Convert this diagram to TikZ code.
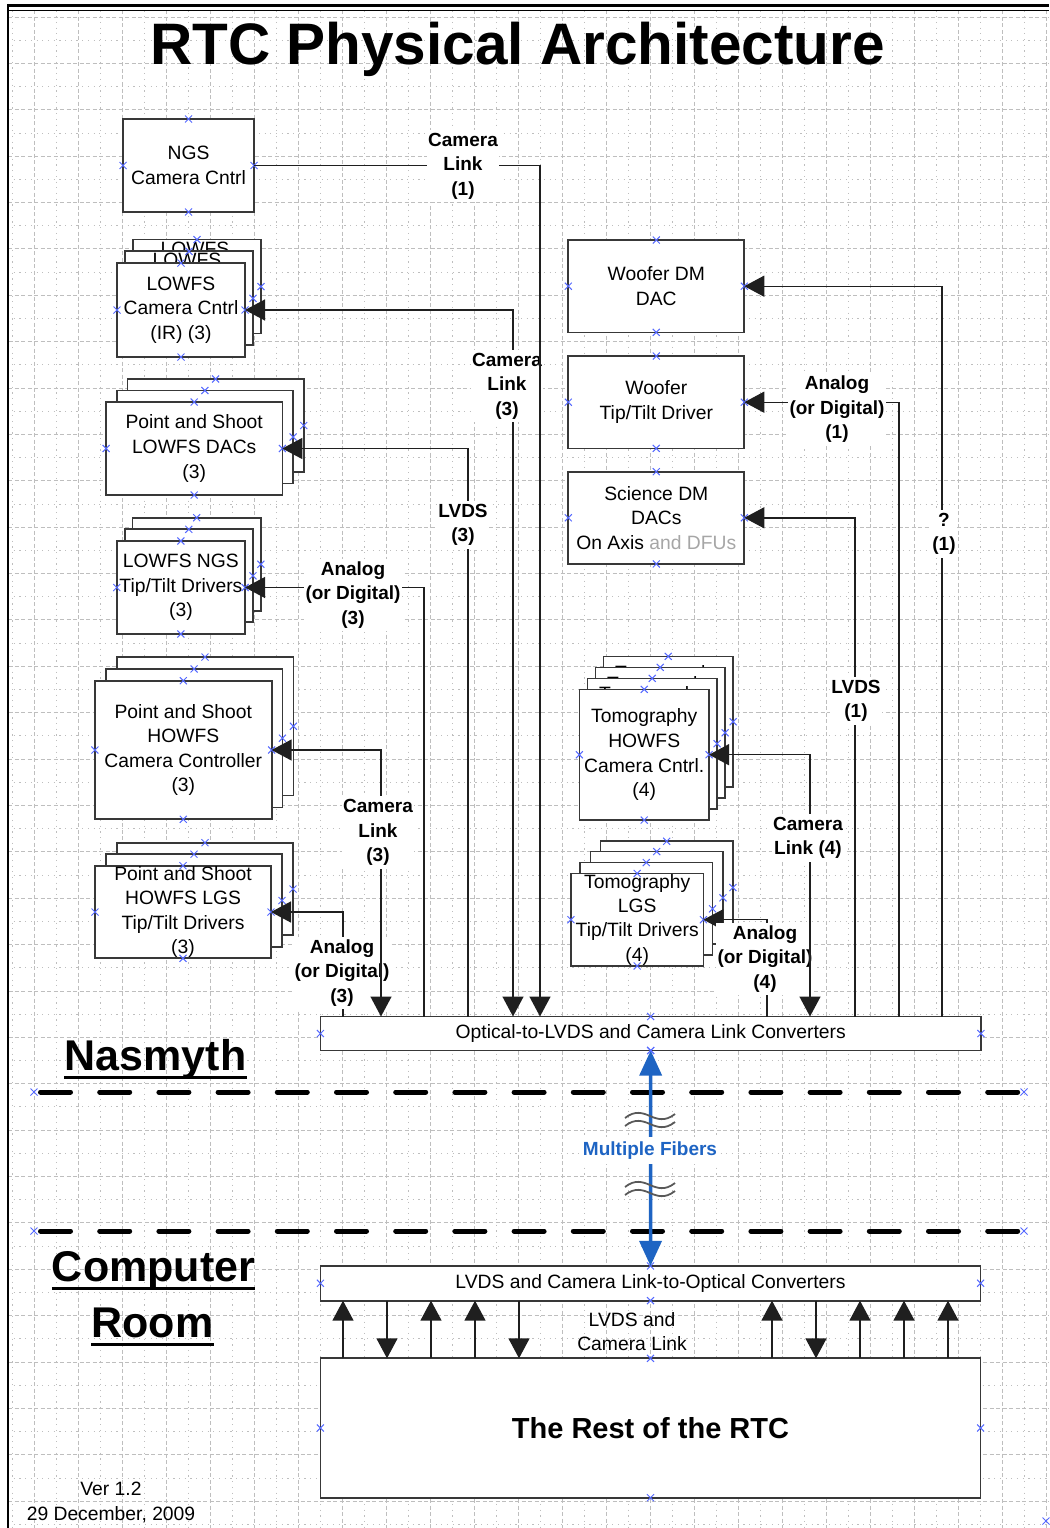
\documentclass[tikz,border=0pt]{standalone}
\usepackage{fontspec}
\setmainfont{Liberation Sans}
\usetikzlibrary{arrows.meta,calc}
\definecolor{cpblue}{RGB}{85,105,255}
\definecolor{fiber}{RGB}{30,100,195}
\definecolor{gridc}{RGB}{190,190,190}
\newcommand\bodyf{\fontsize{19.3}{24.6}\selectfont}
\newcommand\labf{\fontsize{19}{24.5}\selectfont\bfseries}
\newcommand\cpmk[1]{\draw[cp] (#1) +(-3.5,-3.5) -- +(3.5,3.5) +(-3.5,3.5) -- +(3.5,-3.5);}
\newcommand\cpbox[1]{\cpmk{#1.north}\cpmk{#1.south}\cpmk{#1.east}\cpmk{#1.west}}
\begin{document}
\begin{tikzpicture}[x=1pt,y=-1pt,
  >={Triangle[length=20pt,width=21pt]},
  box/.style={draw=black!78, line width=1.7pt, fill=white, inner sep=0pt, outer sep=0pt, align=center, font=\bodyf},
  frag/.style={font=\bodyf, anchor=base, inner sep=0pt},
  conn/.style={draw=black!88, line width=1.4pt},
  lab/.style={font=\labf, align=center, fill=white, inner xsep=1.5pt, inner ysep=3pt},
  cp/.style={draw=cpblue, line width=1pt},
  gmaj/.style={draw=gridc, line width=0.9pt, dash pattern=on 4pt off 2.5pt},
  gmin/.style={draw=gridc, line width=0.9pt, dash pattern=on 1.2pt off 4.5pt},
  sep/.style={draw=black, line width=5pt, line cap=round, dash pattern=on 30pt off 29.2pt, dash phase=52.7pt},
  big/.style={font=\fontsize{43}{50}\selectfont\bfseries, anchor=base, inner sep=0pt},
  uline/.style={draw=black, line width=3pt},
  wav/.style={draw=black!65, line width=1.8pt},
  pics/wavy/.style={code={\draw[wav] (-25,2) .. controls (-15,-6) and (-7,-3) .. (0,0) .. controls (7,3) and (15,6) .. (25,-2);}}
]
\useasboundingbox (0,0) rectangle (1049,1528);
% grid
\foreach \i in {0,...,23} {
  \draw[gmaj] ({34+44.04*\i},10.5) -- ({34+44.04*\i},1528);
  \draw[gmin] ({12+44.04*\i},10.5) -- ({12+44.04*\i},1528);
}
\foreach \i in {0,...,32} {
  \draw[gmaj] (8,{17+46.38*\i}) -- (1049,{17+46.38*\i});
  \draw[gmin] (8,{40.19+46.38*\i}) -- (1049,{40.19+46.38*\i});
}
% frame
\draw[line width=3pt] (7,5.5) -- (1049,5.5);
\draw[line width=1pt] (9,10.5) -- (1049,10.5);
\draw[line width=2.5pt] (8,4) -- (8,1528);
% title
\node[font=\fontsize{58.5}{60}\selectfont\bfseries, anchor=base, inner sep=0pt] (title) at (517.5,65) {RTC Physical Architecture};

% NGS
\node[box, minimum width=131, minimum height=93] (ngs) at (188.5,165.5) {NGS\\Camera Cntrl}; \cpbox{ngs}
% LOWFS stack
\node[box, minimum width=128, minimum height=94] (lowfsC) at (197,286.6) {};
\node[frag] (lowfsCt) at (195,255.7) {LOWFS}; \cpbox{lowfsC}
\node[box, minimum width=128, minimum height=94] (lowfsB) at (189,298.3) {};
\node[frag] (lowfsBt) at (187,266.7) {LOWFS}; \cpbox{lowfsB}
\node[box, minimum width=128, minimum height=94] (lowfs) at (181,310) {LOWFS\\Camera Cntrl\\(IR) (3)}; \cpbox{lowfs}
% P&S LOWFS DACs
\node[box, minimum width=176.3, minimum height=93] (psdacC) at (215.6,425.5) {}; \cpbox{psdacC}
\node[box, minimum width=176.3, minimum height=93] (psdacB) at (204.9,437) {}; \cpbox{psdacB}
\node[box, minimum width=176.3, minimum height=93] (psdac) at (194.2,448.5) {Point and Shoot\\LOWFS DACs\\(3)}; \cpbox{psdac}
% LOWFS NGS TT
\node[box, minimum width=128.3, minimum height=93] (ngsttC) at (196.7,564.2) {}; \cpbox{ngsttC}
\node[box, minimum width=128.3, minimum height=93] (ngsttB) at (188.8,575.8) {}; \cpbox{ngsttB}
\node[box, minimum width=128.3, minimum height=93] (ngstt) at (180.9,587.5) {LOWFS NGS\\Tip/Tilt Drivers\\(3)}; \cpbox{ngstt}
% P&S HOWFS camera
\node[box, minimum width=176.7, minimum height=138.6] (pshcamC) at (205,726.3) {}; \cpbox{pshcamC}
\node[box, minimum width=176.7, minimum height=138.6] (pshcamB) at (194.1,738.2) {}; \cpbox{pshcamB}
\node[box, minimum width=176.7, minimum height=138.6] (pshcam) at (183.3,750) {Point and Shoot\\HOWFS\\Camera Controller\\(3)}; \cpbox{pshcam}
% P&S HOWFS LGS
\node[box, minimum width=176, minimum height=92.6] (pslgsC) at (205,889) {}; \cpbox{pslgsC}
\node[box, minimum width=176, minimum height=92.6] (pslgsB) at (194,900.5) {}; \cpbox{pslgsB}
\node[box, minimum width=176, minimum height=92.6, font=\fontsize{19.3}{24.3}\selectfont] (pslgs) at (183,912) {Point and Shoot\\HOWFS LGS\\Tip/Tilt Drivers\\(3)}; \cpbox{pslgs}
% right column
\node[box, minimum width=176, minimum height=92.3] (wdac) at (656.3,286.2) {Woofer DM\\DAC}; \cpbox{wdac}
\node[box, minimum width=176, minimum height=92.3] (wtt) at (656.3,402.2) {Woofer\\Tip/Tilt Driver}; \cpbox{wtt}
\node[box, minimum width=176, minimum height=92.3] (sdm) at (656.3,517.8) {Science DM\\DACs\\On Axis \textcolor{black!35}{and DFUs}}; \cpbox{sdm}
% Tomography HOWFS
\node[box, minimum width=129.7, minimum height=130.7] (thcamD) at (668.3,721.7) {};
\node[frag] (thcamDt) at (668.3,679) {Tomography}; \cpbox{thcamD}
\node[box, minimum width=129.7, minimum height=130.7] (thcamC) at (660.3,732.7) {};
\node[frag] (thcamCt) at (660.3,690) {Tomography}; \cpbox{thcamC}
\node[box, minimum width=129.7, minimum height=130.7] (thcamB) at (652.2,743.7) {};
\node[frag] (thcamBt) at (652.2,700.7) {Tomography}; \cpbox{thcamB}
\node[box, minimum width=129.7, minimum height=130.7] (thcam) at (644.2,754.7) {Tomography\\HOWFS\\Camera Cntrl.\\(4)}; \cpbox{thcam}
% Tomography LGS
\node[box, minimum width=132.5, minimum height=92.5] (tlgsD) at (666.7,887.5) {}; \cpbox{tlgsD}
\node[box, minimum width=132.5, minimum height=92.5] (tlgsC) at (656.7,897.8) {}; \cpbox{tlgsC}
\node[box, minimum width=132.5, minimum height=92.5] (tlgsB) at (646.3,908.8) {}; \cpbox{tlgsB}
\node[box, minimum width=132.5, minimum height=92.5, font=\fontsize{19.3}{24.3}\selectfont] (tlgs) at (637.2,919.7) {Tomography\\LGS\\Tip/Tilt Drivers\\(4)}; \cpbox{tlgs}
% converters and RTC
\node[box, minimum width=660.5, minimum height=34] (conv) at (650.7,1033.5) {Optical-to-LVDS and Camera Link Converters}; \cpbox{conv}
\node[box, minimum width=660.2, minimum height=34.7] (lvds) at (650.5,1283.3) {LVDS and Camera Link-to-Optical Converters}; \cpbox{lvds}
\node[box, minimum width=660.2, minimum height=139.4, font=\fontsize{29}{34}\selectfont\bfseries] (rtc) at (650.5,1428) {The Rest of the RTC}; \cpbox{rtc}

% connectors (left)
\draw[conn,<->] (lowfs.east) -| (513,0 |- conv.north);
\node[lab] (l2) at (507,386) {Camera\\Link\\(3)};
\draw[conn,->] (ngs.east) -| (540,0 |- conv.north);
\node[lab] (l1) at (463,166) {Camera\\Link\\(1)};
\draw[conn,<-] (psdac.east) -| (468,0 |- conv.north);
\node[lab] (l3) at (463,525) {LVDS\\(3)};
\draw[conn,<-] (ngstt.east) -| (424,0 |- conv.north);
\node[lab] (l4) at (353,595) {Analog\\(or Digital)\\(3)};
\draw[conn,<-] (pslgs.east) -| (343,0 |- conv.north);
\node[lab] (l6) at (342,973) {Analog\\(or Digital)\\(3)};
\draw[conn,<->] (pshcam.east) -| (381,0 |- conv.north);
\node[lab] (l5) at (378,832.5) {Camera\\Link\\(3)};
% connectors (right)
\draw[conn,<-] (wdac.east) -| (942,0 |- conv.north);
\node[lab] (l8) at (944,534) {?\\(1)};
\draw[conn,<-] (wtt.east) -| (899,0 |- conv.north);
\node[lab] (l7) at (837,409.5) {Analog\\(or Digital)\\(1)};
\draw[conn,<-] (sdm.east) -| (855,0 |- conv.north);
\node[lab] (l9) at (856,701) {LVDS\\(1)};
\draw[conn,<-] (tlgs.east) -| (767,0 |- conv.north);
\node[lab] (l11) at (765,959) {Analog\\(or Digital)\\(4)};
\draw[conn,<->] (thcam.east) -| (810,0 |- conv.north);
\node[lab] (l10) at (808,838) {Camera\\Link (4)};

% separators
\coordinate (s1l) at (34,1092); \coordinate (s1r) at (1024,1092);
\coordinate (s2l) at (34,1231); \coordinate (s2r) at (1024,1231);
\draw[sep] (s1l) -- (s1r);
\draw[sep] (s2l) -- (s2r);
\cpmk{s1l}\cpmk{s1r}\cpmk{s2l}\cpmk{s2r}

% fibers
\draw[draw=fiber, line width=3.5pt, {Triangle[length=25pt,width=22pt]}-{Triangle[length=25pt,width=22pt]}] (conv.south) -- (lvds.north);
\pic at (650,1116) {wavy};
\pic at (650,1124) {wavy};
\pic at (650,1185) {wavy};
\pic at (650,1193) {wavy};
\node[lab, text=fiber, inner ysep=5pt] (mf) at (650,1150.5) {Multiple Fibers};
\cpmk{conv.south}

% bottom arrows
\foreach \x in {343,431,475,772,860,904,948}
  \draw[conn,->] (\x,0 |- rtc.north) -- (\x,0 |- lvds.south);
\foreach \x in {387,519,816}
  \draw[conn,->] (\x,0 |- lvds.south) -- (\x,0 |- rtc.north);
\node[font=\bodyf, align=center, inner sep=0pt] (lvlab) at (632,1331.5) {LVDS and\\Camera Link};

% area labels
\node[big] (nas) at (155.5,1070) {Nasmyth};
\draw[uline] ($(nas.base west)+(0,7.5)$) -- ($(nas.base east)+(0,7.5)$);
\node[big] (comp) at (153.5,1281) {Computer};
\draw[uline] ($(comp.base west)+(0,7.5)$) -- ($(comp.base east)+(0,7.5)$);
\node[big] (room) at (152.5,1337) {Room};
\draw[uline] ($(room.base west)+(0,7.5)$) -- ($(room.base east)+(0,7.5)$);

% version
\node[font=\bodyf, anchor=base, inner sep=0pt] (ver) at (111,1495) {Ver 1.2};
\node[font=\bodyf, anchor=base, inner sep=0pt] (date) at (111,1520) {29 December, 2009};
\coordinate (corner) at (1046,1521); \cpmk{corner}
\end{tikzpicture}
\end{document}
